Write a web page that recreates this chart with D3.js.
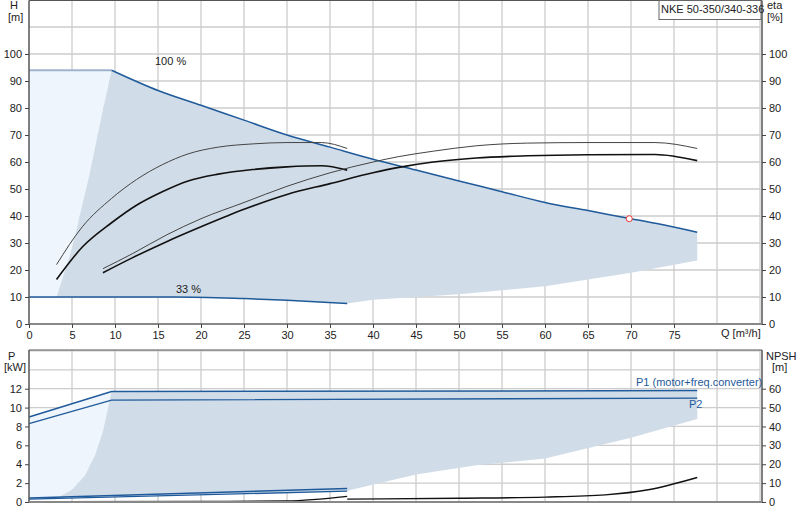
<!DOCTYPE html><html><head><script src="https://cdn.jsdelivr.net/npm/d3@7"></script>
<style>body{margin:0;background:#fff}text{font-family:"Liberation Sans",Arial,sans-serif;font-size:11px;fill:#222}</style></head><body>
<svg id="c" width="800" height="520"></svg>
<script>
const qTicks=[0,5,10,15,20,25,30,35,40,45,50,55,60,65,70,75];
const hTicks=[0,10,20,30,40,50,60,70,80,90,100];
const pTicks=[0,2,4,6,8,10,12];
const npshTicks=[0,10,20,30,40,50,60];
const h100=[[9.6,94],[15,86.5],[20,81],[25,75.5],[30,70],[35,65.5],[40,61],[45,57],[50,53],[55,49],[60,45],[65,42],[70,39],[73,37.2],[77.7,34]];
const h100flat=[[0,94],[9.6,94]];
const h33=[[0,10],[17,10],[25,9.4],[30,8.8],[37,7.6]];
const hLower=[[77.7,23.5],[70,19],[60,14],[50,11],[45,10],[40,9],[37,7.6]];
const hLeft=[[3.2,10],[5,28],[7,55],[8.5,78],[9.6,94]];
const etaA1=[[3.2,22],[6.2,36],[9.6,46.5],[12.5,53.5],[15.5,59],[18.5,63],[22,65.5],[26,66.7],[30,67.2],[34,67.2],[37,65]];
const etaA2=[[3.2,16.5],[6.2,28.5],[9.6,37.5],[12.5,44],[15.5,49],[18.5,53],[22,55.5],[26,57.2],[30,58.2],[34,58.6],[37,57]];
const etaB1=[[8.6,20.5],[12,26],[16,33],[20,39],[25,45],[30,51],[35,56],[40,60],[43,62],[47,64],[52,66],[58,67],[65,67.2],[72.8,67.2],[77.7,65]];
const etaB2=[[8.6,19],[12,24.5],[16,30.5],[20,36],[25,42.5],[30,48],[35,52],[40,56],[43,58],[47,60],[52,61.5],[58,62.3],[65,62.7],[72.8,62.8],[77.7,60.5]];
const dutyPoint=[69.8,39];
const p1=[[0,9],[9.6,11.7],[77.7,11.8]];
const p2=[[0,8.3],[9.6,10.8],[77.7,11.0]];
const p1low=[[0,0.42],[37,1.42]];
const p2low=[[0,0.3],[37,1.15]];
const pLower=[[77.7,8.8],[70,6.8],[60,4.6],[52,3.9],[45,2.9],[37,1.2]];
const pLeft=[[3,0.3],[5,1.3],[6.5,2.8],[7.7,5],[8.6,7.5],[9.6,11.7]];
const npsh1=[[3.2,0.2],[20,0.3],[30,0.6],[37,3]];
const npsh2=[[37,1.5],[50,2],[60,2.6],[67,3.8],[72,6.5],[77.7,13]];

const svg=d3.select("#c");
const x=d3.scaleLinear().domain([0,85]).range([29,760]);
const yH=d3.scaleLinear().domain([0,120]).range([324,0]);
const yP=d3.scaleLinear().domain([0,16.1]).range([502,350]);
const yN=d3.scaleLinear().domain([0,80.5]).range([502,350]);
const gridC="#cccccc";
function grid(y,vals,y0,y1){
  const g=svg.append("g");
  d3.range(5,86,5).forEach(q=>g.append("line").attr("x1",x(q)).attr("x2",x(q)).attr("y1",y0).attr("y2",y1).attr("stroke",gridC).attr("stroke-width",1.3));
  vals.forEach(v=>g.append("line").attr("x1",x(0)).attr("x2",x(85)).attr("y1",y(v)).attr("y2",y(v)).attr("stroke",gridC).attr("stroke-width",1.3));
}
grid(yH,d3.range(10,121,10),0,324);
grid(yP,d3.range(2,17,2),350,502);
const L=(y)=>d3.line().x(d=>x(d[0])).y(d=>y(d[1]));
const Lc=(y)=>d3.line().x(d=>x(d[0])).y(d=>y(d[1])).curve(d3.curveMonotoneX);
const light="#eef5fc",dark="#d0dce8";
svg.append("path").attr("d",L(yH)([[0,10],[3.2,10],...hLeft.slice(1),[0,94]])+"Z").attr("fill",light);
svg.append("path").attr("d",L(yH)([...hLeft,...h100.slice(1),...hLower,...h33.slice().reverse().filter(d=>d[0]>3.2)])+"Z").attr("fill",dark);
svg.append("path").attr("d",L(yP)([[0,0.42],[0,9],[9.6,11.7],...pLeft.slice().reverse()])+"Z").attr("fill",light);
svg.append("path").attr("d",L(yP)([...pLeft,[77.7,11.8],...pLower,[3,0.5]])+"Z").attr("fill",dark);
const blue="#1f5a9a";
const path=(d,gen,c,w)=>svg.append("path").attr("d",gen(d)).attr("fill","none").attr("stroke",c).attr("stroke-width",w);
path(h100flat,L(yH),"#9fb4cc",2);
path(h100,Lc(yH),blue,1.5);path(h33,Lc(yH),blue,1.5);
path(etaA1,Lc(yH),"#444",1);path(etaA2,Lc(yH),"#111",1.6);
path(etaB1,Lc(yH),"#444",1);path(etaB2,Lc(yH),"#111",1.6);
svg.append("circle").attr("cx",x(dutyPoint[0])).attr("cy",yH(dutyPoint[1])).attr("r",3).attr("fill","#fff").attr("stroke","#e33").attr("stroke-width",1);
path(p1,L(yP),blue,1.5);path(p2,L(yP),blue,1.3);
path(p1low,L(yP),blue,1.5);path(p2low,L(yP),blue,1.3);
path(npsh1,Lc(yN),"#111",1.4);path(npsh2,Lc(yN),"#111",1.4);
const ax="#555";
function frame(y0,y1){
  svg.append("line").attr("x1",29).attr("x2",29).attr("y1",y0).attr("y2",y1).attr("stroke",ax).attr("stroke-width",1.5);
  svg.append("line").attr("x1",762).attr("x2",762).attr("y1",y0).attr("y2",y1).attr("stroke",ax).attr("stroke-width",1.5);
  svg.append("line").attr("x1",29).attr("x2",762).attr("y1",y0).attr("y2",y0).attr("stroke",ax);
  svg.append("line").attr("x1",29).attr("x2",762).attr("y1",y1).attr("y2",y1).attr("stroke","#888").attr("stroke-width",2);
}
frame(0.5,324);frame(350,502);
svg.append("g").attr("transform","translate(0,324)").call(d3.axisBottom(x).tickValues(qTicks).tickSize(4).tickFormat(d3.format("d"))).call(g=>g.select(".domain").remove());
svg.append("g").attr("transform","translate(29,0)").call(d3.axisLeft(yH).tickValues(hTicks).tickSize(4)).call(g=>g.select(".domain").remove());
svg.append("g").attr("transform","translate(762,0)").call(d3.axisRight(yH).tickValues(hTicks).tickSize(4)).call(g=>g.select(".domain").remove());
svg.append("g").attr("transform","translate(29,0)").call(d3.axisLeft(yP).tickValues(pTicks).tickSize(4)).call(g=>g.select(".domain").remove());
svg.append("g").attr("transform","translate(762,0)").call(d3.axisRight(yN).tickValues(npshTicks).tickSize(4)).call(g=>g.select(".domain").remove());
svg.selectAll(".tick text").attr("font-family","Liberation Sans, Arial, sans-serif").attr("font-size","11px").attr("fill","#222");
svg.selectAll(".tick line").attr("stroke","#444");
const t=(s,xx,yy,anchor,col)=>svg.append("text").attr("x",xx).attr("y",yy).attr("text-anchor",anchor||"start").style("fill",col||"#222").text(s);
t("H",10,9);t("[m]",8,21);t("eta",767,9);t("[%]",767,21);
t("P",8,360);t("[kW]",4,371);t("NPSH",766,360);t("[m]",772,371);
t("Q [m³/h]",721,337);
t("100 %",155,65);t("33 %",176,293);
t("P1 (motor+freq.converter)",636,386,"start",blue);t("P2",689,408,"start",blue);
svg.append("rect").attr("x",659).attr("y",0.5).attr("width",102).attr("height",19).attr("fill","#fff").attr("stroke","#666");
t("NKE 50-350/340-336",661,13);
</script></body></html>
